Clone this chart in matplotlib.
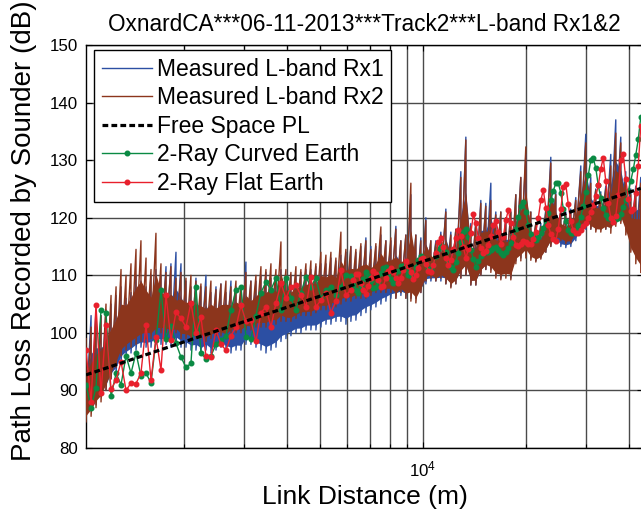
import matplotlib
matplotlib.use("Agg")
import matplotlib.pyplot as plt
import numpy as np
from matplotlib.ticker import FixedLocator, FixedFormatter, NullFormatter

plt.rcParams["font.family"] = ["Liberation Sans", "DejaVu Sans"]
plt.rcParams["mathtext.fontset"] = "custom"
plt.rcParams["mathtext.rm"] = "Liberation Sans"
plt.rcParams["mathtext.it"] = "Liberation Sans:italic"
plt.rcParams["mathtext.bf"] = "Liberation Sans:bold"

# ---------------- data ----------------
# link distance of each measurement bin (m)
dist_m = [1034, 1070, 1106, 1144, 1183, 1224, 1266, 1309, 1354, 1400,
          1448, 1497, 1549, 1602, 1656, 1713, 1772, 1832, 1895, 1960,
          2027, 2096, 2168, 2242, 2319, 2398, 2481, 2565, 2653, 2744,
          2838, 2935, 3035, 3139, 3247, 3358, 3473, 3592, 3715, 3842,
          3973, 4109, 4250, 4395, 4546, 4701, 4862, 5028, 5201, 5379,
          5563, 5753, 5950, 6153, 6364, 6582, 6807, 7040, 7281, 7530,
          7788, 8054, 8330, 8615, 8910, 9215, 9530, 9856, 10194, 10543,
          10903, 11277, 11662, 12062, 12474, 12901, 13343, 13799, 14272, 14760,
          15265, 15788, 16328, 16887, 17465, 18062, 18680, 19320, 19981, 20665,
          21372, 22103, 22860, 23642, 24451, 25288, 26153, 27048, 27974, 28931,
          29921, 30945, 32004, 33100, 34232, 35404, 36615, 37868, 39164, 40505,
          41891, 43324]

# measured path loss per bin, min / max of the fast-fading samples (dB)
rx1_hi = [98, 103, 104, 103, 104, 105, 106.5, 108, 106, 107,
          110, 109, 108, 110, 111, 110, 111.5, 112, 114, 112,
          109, 108, 109.5, 108, 110, 107, 108, 108.5, 107, 109,
          108, 107.5, 112.3, 109, 109, 110, 110.5, 109.5, 110, 111,
          110, 110, 110, 110.5, 111, 111, 111.5, 112, 112, 113,
          112.5, 113.5, 114, 115, 114, 115, 116.5, 115, 115, 117,
          116, 116, 118.5, 116, 117, 124, 117, 116.5, 120, 116,
          116, 117.5, 121.5, 117.5, 118, 128, 134, 119, 119.5, 123,
          122.5, 126, 121, 121, 120, 121, 124, 127, 131, 121,
          119, 119, 121.5, 130.5, 124.5, 121, 121, 121.5, 123.5, 129,
          134.5, 127, 125, 124.5, 125.5, 131, 137, 134, 128, 125,
          125.5, 127]
rx1_lo = [86, 86.5, 87.5, 89, 90, 92, 93, 95, 96, 96.5,
          97, 97.5, 97.5, 97.5, 98, 98, 98, 97.5, 98, 97.5,
          97.5, 97, 97, 96.5, 97, 96.5, 97, 97.5, 97, 96.5,
          97, 97, 98, 98, 97.5, 97, 96.5, 97, 97.5, 98.5,
          99, 99.5, 100, 100, 100.5, 100.5, 100.5, 101, 101.5, 101.5,
          102, 102, 101.5, 102, 102.2, 103, 103.5, 104, 104.5, 105,
          105.5, 106, 106, 106.5, 106, 106, 106, 107, 108.5, 109,
          109, 109, 108.5, 108, 108.5, 109.5, 110, 108.3, 108.3, 110,
          111, 111, 110, 109.5, 110.5, 109.5, 112.5, 113, 113.5, 113,
          112.5, 113, 114, 115, 115.5, 115, 114.8, 115, 116, 117.5,
          118, 118, 118, 118, 118, 118.5, 119, 119.5, 118, 116,
          115, 114]
rx2_hi = [99, 101, 102.5, 103, 105, 106.5, 108, 111, 110, 112,
          114.5, 116, 113, 111, 117.3, 112, 110.5, 111.5, 109.5, 110.5,
          109.5, 110, 109, 108.5, 108, 109, 107.5, 108.5, 109, 108,
          109, 108, 110.5, 109, 110, 111.5, 111, 112, 111, 115.8,
          111, 110.5, 111.5, 111, 112, 112.5, 112, 114, 113.5, 114,
          113, 117.5, 114.5, 115, 114.5, 115.5, 116, 114.5, 115.5, 118.4,
          116, 116.5, 118, 116, 117, 126, 117, 116, 119.5, 116,
          115.5, 117, 121, 117, 118, 127, 133.5, 118.5, 119, 122.5,
          122, 123, 120.5, 121, 120, 121, 124, 127, 132.3, 121,
          119, 118.5, 121, 129.5, 124, 121, 120.5, 121, 123, 128,
          133, 126, 124.8, 124, 125, 129, 134.7, 133, 127, 124,
          125, 126]
rx2_lo = [84.5, 85.5, 87, 88, 90, 92, 94, 96, 97, 97.5,
          98, 98.5, 99, 99, 99.5, 100, 100, 99.5, 100, 99,
          99, 98.5, 99, 99, 98.5, 99, 99.5, 99.5, 99, 100,
          100, 100, 100.5, 100.5, 101, 101, 101, 101.5, 101.5, 102,
          102, 102, 102.5, 103, 103, 103, 103.5, 104, 104, 104.5,
          104.5, 105, 105.5, 105.5, 106, 106, 106, 106.5, 107, 107,
          107, 107, 106, 107, 106, 105.5, 105.2, 107, 109, 109.5,
          109, 109.5, 108.5, 107.8, 108.5, 109.5, 110, 108.3, 108.3, 110,
          111, 110.5, 109.5, 109.2, 109.5, 109.2, 112, 112.5, 113, 112.6,
          112.3, 112.8, 114, 115, 116, 116, 115.5, 115.6, 117, 118,
          118.4, 118, 117.5, 117.5, 118, 117.3, 118.5, 119, 117, 114,
          112, 110.5]

# free-space path loss (dB)
fspl_dist = [1034, 10000, 43324]
fspl_db = [92.7, 112.4, 125.1]

# two-ray model evaluations (dB); sparse near the transmitter, dense beyond 6 km
near_dist = dist_m[:53]
far_dist = [6153, 6258, 6364, 6472, 6582, 6694, 6807, 6923, 7040, 7160,
            7281, 7405, 7530, 7658, 7788, 7920, 8054, 8191, 8330, 8471,
            8615, 8761, 8910, 9061, 9215, 9371, 9530, 9692, 9856, 10024,
            10194, 10367, 10543, 10722, 10903, 11088, 11277, 11468, 11662, 11860,
            12062, 12267, 12474, 12686, 12901, 13120, 13343, 13570, 13799, 14033,
            14272, 14514, 14760, 15011, 15265, 15524, 15788, 16056, 16328, 16605,
            16887, 17174, 17465, 17762, 18062, 18369, 18680, 18997, 19320, 19648,
            19981, 20320, 20665, 21016, 21372, 21735, 22103, 22478, 22860, 23248,
            23642, 24043, 24451, 24866, 25288, 25717, 26153, 26597, 27048, 27508,
            27974, 28449, 28931, 29422, 29921, 30429, 30945, 31470, 32004, 32547,
            33100, 33662, 34232, 34813, 35404, 36005, 36615, 37237, 37868, 38511,
            39164, 39829, 40505, 41193, 41891, 42602, 43324]

curved_near = [91.0, 87.0, 90.5, 104.0, 103.5, 89.0, 93.0, 91.0, 96.0, 93.0,
               96.5, 92.5, 93.0, 91.3, 98.7, 107.4, 99.0, 101.2, 98.2, 95.8,
               94.0, 94.7, 108.0, 96.5, 95.5, 96.0, 98.0, 98.7, 99.5, 104.0,
               107.4, 108.0, 99.3, 99.0, 103.0, 107.0, 108.8, 107.5, 109.5, 104.0,
               109.5, 106.0, 104.0, 107.0, 109.7, 108.0, 109.5, 106.0, 107.5, 108.0,
               106.5, 108.0, 110.0]
curved_far = [109.9, 108.3, 107.4, 107.0, 108.1, 109.3, 110.5, 109.9, 109.0, 107.8,
              108.0, 108.8, 110.4, 111.2, 111.5, 110.3, 109.3, 108.6, 109.5, 110.7,
              111.6, 111.6, 111.0, 110.1, 109.8, 110.3, 111.5, 112.6, 113.3, 113.0,
              112.0, 111.1, 110.9, 111.8, 113.3, 114.6, 115.3, 114.9, 114.0, 112.4,
              111.4, 111.0, 112.3, 113.9, 115.8, 117.5, 118.0, 116.6, 114.4, 112.8,
              111.5, 112.4, 113.3, 113.9, 114.0, 114.0, 114.4, 114.7, 115.0, 114.4,
              113.9, 113.6, 114.0, 114.7, 115.6, 116.8, 118.0, 120.1, 122.0, 122.8,
              121.0, 118.7, 117.1, 116.4, 116.1, 116.7, 117.4, 118.3, 119.5, 120.9,
              123.0, 124.7, 126.0, 126.0, 124.3, 121.6, 119.4, 117.9, 117.3, 117.4,
              117.9, 118.8, 120.2, 122.0, 124.5, 127.4, 130.0, 130.3, 128.6, 125.6,
              123.4, 121.7, 120.5, 120.0, 119.7, 119.6, 119.7, 120.0, 120.7, 121.8,
              123.0, 124.6, 126.4, 128.4, 130.9, 133.6, 137.5]

flat_near = [97.0, 88.0, 104.8, 89.5, 101.4, 90.2, 91.8, 95.0, 90.0, 91.3,
             91.2, 93.0, 101.4, 91.8, 99.3, 93.5, 106.5, 98.7, 103.6, 102.5,
             101.0, 105.2, 100.0, 102.7, 96.0, 95.8, 100.5, 98.0, 97.0, 99.5,
             101.0, 104.8, 102.0, 102.2, 98.5, 103.5, 104.5, 101.0, 105.2, 108.6,
             106.0, 108.0, 108.3, 106.5, 104.5, 109.7, 104.5, 105.7, 107.0, 103.5,
             105.5, 110.9, 106.5]
flat_far = [107.5, 109.2, 110.2, 110.2, 108.6, 107.5, 106.8, 108.2, 109.5, 110.8,
            110.3, 109.2, 108.0, 108.2, 109.5, 110.8, 111.3, 110.6, 109.5, 108.7,
            109.6, 111.0, 112.5, 111.6, 110.5, 109.3, 110.0, 111.3, 112.8, 113.0,
            112.0, 110.8, 110.5, 111.8, 113.8, 115.7, 116.5, 114.9, 113.0, 111.7,
            112.6, 114.5, 116.5, 117.8, 116.8, 114.9, 113.0, 114.5, 117.3, 120.6,
            119.0, 116.5, 114.7, 113.9, 114.3, 115.3, 116.9, 118.8, 119.4, 117.6,
            115.5, 116.7, 119.6, 121.3, 119.1, 116.7, 115.3, 115.1, 115.5, 115.9,
            115.8, 115.5, 115.5, 116.3, 117.5, 120.0, 123.0, 124.8, 121.7, 118.7,
            117.1, 116.3, 116.0, 118.1, 121.5, 125.3, 125.8, 122.3, 119.4, 117.8,
            117.4, 117.4, 117.8, 118.5, 119.0, 120.0, 121.0, 122.2, 123.7, 125.6,
            128.5, 130.4, 126.3, 122.5, 120.0, 119.2, 120.3, 124.0, 130.0, 131.0,
            126.7, 123.3, 121.2, 121.5, 124.3, 129.0, 136.0]

ray_dist = near_dist + far_dist
curved_db = curved_near + curved_far
flat_db = flat_near + flat_far

minor_x = [2000, 3000, 4000, 5000, 6000, 7000, 8000, 9000, 20000, 30000, 40000]
y_ticks = [80, 90, 100, 110, 120, 130, 140, 150]

C_RX1 = "#2c4fa3"
C_RX2 = "#8c351c"
C_CURVED = "#0a8a43"
C_FLAT = "#e8202c"


def fading_trace(dist, lo, hi):
    """Sweep each bin from its max to its min so the trace spans the fading range."""
    xs, ys = [], []
    for d, a, b in zip(dist, lo, hi):
        xs += [d, d]
        ys += [b, a]
    return xs, ys


def draw_measured(ax, dist, lo, hi, color, z, label):
    lo_a, hi_a = np.asarray(lo), np.asarray(hi)
    span = hi_a - lo_a
    # bulk of the fading samples sits in the lower part of each bin's range
    ax.fill_between(dist, lo_a + 0.08 * span, lo_a + 0.6 * span,
                    color=color, lw=0, zorder=z)
    xs, ys = fading_trace(dist, lo, hi)
    ax.plot(xs, ys, color=color, lw=1.0, zorder=z, label=label)


# ---------------- figure ----------------
fig = plt.figure(figsize=(6.41, 5.14), dpi=100)
ax = fig.add_axes([86 / 641, 66 / 514, 557 / 641, 403 / 514])

draw_measured(ax, dist_m, rx1_lo, rx1_hi, C_RX1, 2, "Measured L-band Rx1")
draw_measured(ax, dist_m, rx2_lo, rx2_hi, C_RX2, 3, "Measured L-band Rx2")

ax.plot(fspl_dist, fspl_db, color="black", lw=2.3, ls=(0, (1.8, 1.0)),
        zorder=6, label="Free Space PL")
ax.plot(ray_dist, curved_db, color=C_CURVED, lw=1.0, marker="o", ms=3.3,
        mec=C_CURVED, zorder=4, label="2-Ray Curved Earth")
ax.plot(ray_dist, flat_db, color=C_FLAT, lw=1.0, marker="o", ms=3.3,
        mec=C_FLAT, zorder=5, label="2-Ray Flat Earth")

ax.set_xscale("log")
ax.set_xlim(1034, 43980)
ax.set_ylim(80, 150)

ax.xaxis.set_major_locator(FixedLocator([10000]))
ax.xaxis.set_major_formatter(FixedFormatter([r"$\mathregular{10^4}$"]))
ax.xaxis.set_minor_locator(FixedLocator(minor_x))
ax.xaxis.set_minor_formatter(NullFormatter())
ax.set_yticks(y_ticks)

ax.tick_params(which="both", direction="in", top=True, right=True,
               labelsize=12.2, width=0.8, color="black")
ax.tick_params(which="major", length=4)
ax.tick_params(which="minor", length=3)
ax.tick_params(axis="y", pad=6)
ax.tick_params(axis="x", pad=8)

ax.set_axisbelow(True)
ax.grid(True, which="both", color="#4a4a4a", lw=1.0)
for s in ax.spines.values():
    s.set_linewidth(1.0)
    s.set_color("black")

ax.set_title("OxnardCA***06-11-2013***Track2***L-band Rx1&2",
             fontsize=16.3, pad=10)
ax.set_xlabel("Link Distance (m)", fontsize=19, labelpad=4)
ax.set_ylabel("Path Loss Recorded by Sounder (dB)", fontsize=20)
ax.yaxis.set_label_coords(-0.088, 0.538)

leg = ax.legend(loc="upper left", bbox_to_anchor=(0.0144, 0.9876),
                borderaxespad=0, fontsize=16.5, handlelength=2.2,
                handletextpad=0.22, borderpad=0.33, labelspacing=0.24,
                numpoints=1, fancybox=False, framealpha=1, edgecolor="black")
leg.get_frame().set_linewidth(1.0)

fig.savefig("out.png", dpi=100)
